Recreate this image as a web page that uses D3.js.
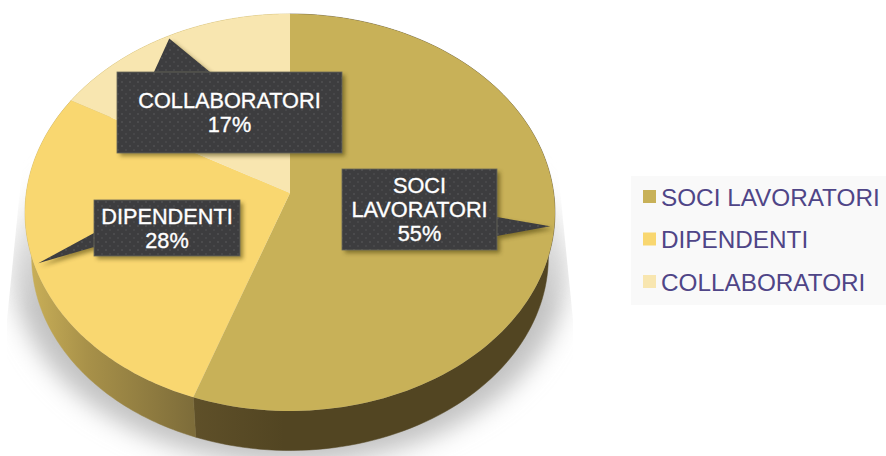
<!DOCTYPE html>
<html>
<head>
<meta charset="utf-8">
<script src="https://cdn.jsdelivr.net/npm/d3@7/dist/d3.min.js"></script>
<style>
html,body{margin:0;padding:0;background:#fff;}
svg{display:block;}
text{font-family:"Liberation Sans",Arial,sans-serif;}
</style>
</head>
<body>
<svg id="chart" width="886" height="456"></svg>
<script>
const categories = ["SOCI LAVORATORI", "DIPENDENTI", "COLLABORATORI"];
const labelLines = [["SOCI", "LAVORATORI"], ["DIPENDENTI"], ["COLLABORATORI"]];
const values = [55.4, 27.8, 16.8];
const colors = ["#c8b158", "#f9d770", "#f8e6b0"];

const svg = d3.select("#chart");
const defs = svg.append("defs");

// perspective projection of the unit disc
const cx = 290, cy = 193, k = -0.098, ax = 263.7, ay = 196.6;
function project(angle, r = 1, drop = 0) {
  const u = r * Math.sin(angle), v = -r * Math.cos(angle), w = 1 + k * v;
  let x = cx + ax * u / w, y = cy + ay * v / w;
  if (drop) {
    const s = 0.975;
    x = cx + (x - cx) * s;
    y = 212.5 + (y - 212.5) * s + drop;
  }
  return [x, y];
}
const arcs = d3.pie().sort(null).value(d => d)(values);
const line = d3.line();
const samples = (a, b) => d3.range(0, 121).map(i => a + (b - a) * i / 120);

// defs
const blur = (id, sd) => defs.append("filter").attr("id", id)
  .attr("x", "-30%").attr("y", "-30%").attr("width", "160%").attr("height", "160%")
  .append("feGaussianBlur").attr("stdDeviation", sd);
blur("shadowBlur", 12);
blur("boxBlur", 2.2);

const grad = (id, x1, x2, stops) => {
  const g = defs.append("linearGradient").attr("id", id)
    .attr("gradientUnits", "userSpaceOnUse")
    .attr("x1", x1).attr("x2", x2).attr("y1", 0).attr("y2", 0);
  stops.forEach(s => g.append("stop").attr("offset", s[0]).attr("stop-color", s[1]));
};
grad("side0", 192, 560, [[0, "#5f5029"], [0.25, "#524522"], [1, "#524522"]]);
grad("side1", 30, 192, [[0, "#c9af58"], [0.35, "#a89149"], [1, "#7e6d3a"]]);
grad("side2", 30, 192, [[0, "#c9af58"], [1, "#c9af58"]]);

const mask = defs.append("linearGradient").attr("id", "fadeGrad")
  .attr("x1", 0).attr("x2", 0).attr("y1", 0).attr("y2", 1);
mask.append("stop").attr("offset", 0).attr("stop-color", "#000");
mask.append("stop").attr("offset", 0.55).attr("stop-color", "#fff");
mask.append("stop").attr("offset", 1).attr("stop-color", "#fff");
defs.append("mask").attr("id", "fade").attr("maskUnits", "userSpaceOnUse")
  .attr("x", 0).attr("y", 0).attr("width", 886).attr("height", 456)
  .append("rect").attr("x", 0).attr("y", 130).attr("width", 886).attr("height", 326).attr("fill", "url(#fadeGrad)");
defs.append("clipPath").attr("id", "shadowClip").append("path")
  .attr("d", line([[26, 130], [554, 130], [573, 320], [573, 456], [7, 456], [7, 320]]));

const dots = defs.append("pattern").attr("id", "dots").attr("patternUnits", "userSpaceOnUse")
  .attr("width", 8).attr("height", 8);
dots.append("rect").attr("width", 8).attr("height", 8).attr("fill", "#3d3d3f");
dots.append("circle").attr("cx", 2).attr("cy", 2).attr("r", 1).attr("fill", "#4f4f51");
dots.append("circle").attr("cx", 6).attr("cy", 6).attr("r", 1).attr("fill", "#4a4a4c");

// ground shadow
svg.append("g").attr("clip-path", "url(#shadowClip)").attr("mask", "url(#fade)")
  .append("ellipse").attr("cx", 290).attr("cy", 268).attr("rx", 277).attr("ry", 196)
  .attr("fill", "#c2c2c2").attr("filter", "url(#shadowBlur)");

// side walls
svg.append("g").selectAll("path").data(arcs).join("path")
  .attr("d", d => {
    const a = samples(d.startAngle, d.endAngle);
    return line(a.map(t => project(t)).concat(a.slice().reverse().map(t => project(t, 1, 44.5)))) + "Z";
  })
  .attr("fill", (d, i) => `url(#side${i})`)
  .attr("stroke", (d, i) => `url(#side${i})`).attr("stroke-width", 0.5);

// top face
svg.append("g").selectAll("path").data(arcs).join("path")
  .attr("d", d => line([project(0, 0)].concat(samples(d.startAngle, d.endAngle).map(t => project(t)))) + "Z")
  .attr("fill", (d, i) => colors[i]);

// callouts
const boxes = [
  {x: 342, y: 169, w: 155, h: 81, base: [[497, 217], [497, 236]]},
  {x: 94, y: 200, w: 146, h: 56, base: [[94, 233], [94, 247]]},
  {x: 117, y: 72, w: 225, h: 81, base: [[154, 72], [210, 72]]}
];
const callouts = svg.append("g").selectAll("g").data(arcs).join("g");
const calloutPath = (d, i) => {
  const b = boxes[i];
  const tip = project((d.startAngle + d.endAngle) / 2, 0.985);
  const rect = `M${b.x},${b.y}h${b.w}v${b.h}h${-b.w}Z`;
  return rect + line([b.base[0], tip, b.base[1]]) + "Z";
};
callouts.append("path").attr("d", calloutPath).attr("fill", "#3a3004").attr("opacity", 0.5)
  .attr("transform", "translate(3,3)").attr("filter", "url(#boxBlur)");
callouts.append("path").attr("d", calloutPath).attr("fill", "url(#dots)");
callouts.append("rect")
  .attr("x", (d, i) => boxes[i].x).attr("y", (d, i) => boxes[i].y)
  .attr("width", (d, i) => boxes[i].w).attr("height", (d, i) => boxes[i].h)
  .attr("fill", "none").attr("stroke", "#6a6a5c").attr("stroke-width", 0.8);
callouts.each(function (d, i) {
  const b = boxes[i];
  const lines = labelLines[i].concat(d3.format(".0f")(d.value) + "%");
  const lh = 24;
  const t = d3.select(this).append("text")
    .attr("text-anchor", "middle").attr("fill", "#fff")
    .attr("stroke", "#fff").attr("stroke-width", 0.35)
    .attr("font-size", 21.7);
  lines.forEach((s, j) => {
    t.append("tspan").attr("x", b.x + b.w / 2)
      .attr("y", b.y + b.h / 2 + (j - (lines.length - 1) / 2) * lh + 7.6)
      .text(s);
  });
});

// legend
const legend = svg.append("g");
legend.append("rect").attr("x", 631).attr("y", 176).attr("width", 255).attr("height", 129).attr("fill", "#f9f9f9");
const ly = d3.scalePoint().domain(categories).range([197, 282]);
const items = legend.selectAll("g").data(categories).join("g");
items.append("rect").attr("x", 643).attr("y", d => ly(d) - 7).attr("width", 13).attr("height", 13)
  .attr("fill", (d, i) => colors[i]);
items.append("text").attr("x", 661).attr("y", d => ly(d) + 8.5)
  .attr("font-size", 24.3).attr("fill", "#4f4587").text(d => d);
</script>
</body>
</html>
